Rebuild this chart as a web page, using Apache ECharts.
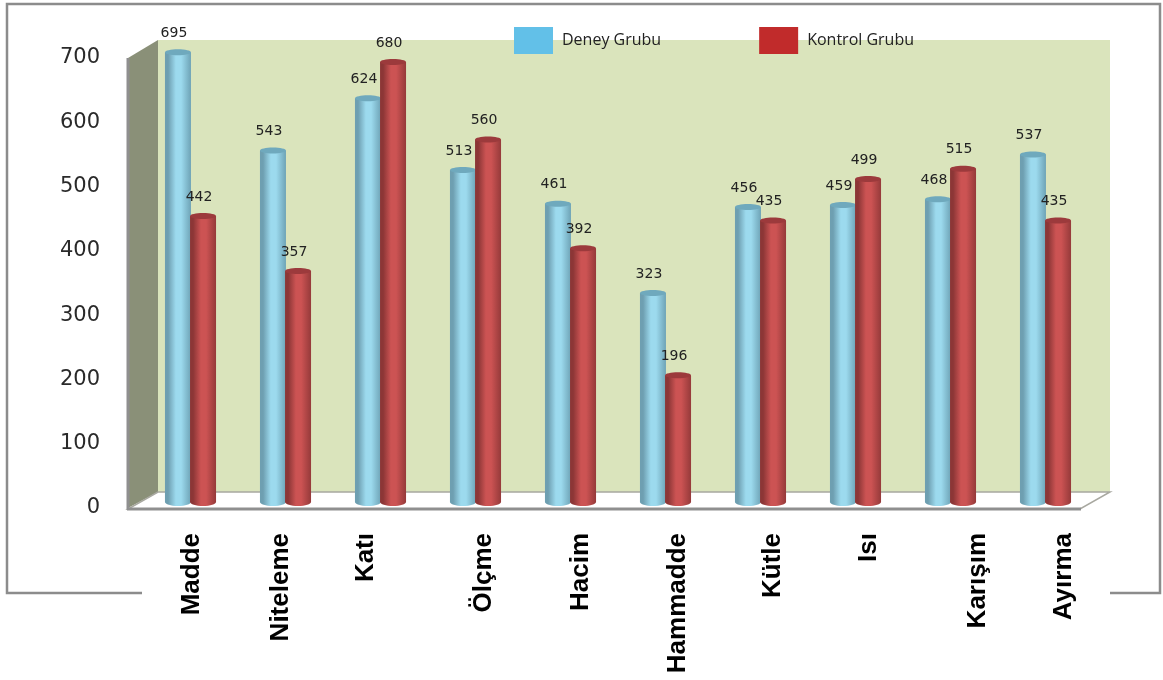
<!DOCTYPE html>
<html>
<head>
<meta charset="utf-8">
<style>html,body{margin:0;padding:0;background:#fff}#chart{width:1163px;height:680px}</style>
<script src="https://cdn.jsdelivr.net/npm/echarts@6/dist/echarts.min.js"></script>
</head>
<body>
<div id="chart"></div>
<script>
// Test scores per concept for the two groups
const categories = ['Madde','Niteleme','Katı','Ölçme','Hacim','Hammadde','Kütle','Isı','Karışım','Ayırma'];
const deneyGrubu = [695,543,624,513,461,323,456,459,468,537];
const kontrolGrubu = [442,357,680,560,392,196,435,499,515,435];
const valueTicks = [0,100,200,300,400,500,600,700];
// Hand placement of the rotated category names along the axis, in px
const labelNudge = [1,-5,-15,8,10,12,12,13,27,18];

const chart = echarts.init(document.getElementById('chart'));

function grad(edgeL, mid, edgeR) {
  return new echarts.graphic.LinearGradient(0,0,1,0,[
    {offset:0,color:edgeL},{offset:0.12,color:edgeL},{offset:0.42,color:mid},
    {offset:0.62,color:mid},{offset:1,color:edgeR}]);
}

// Cylinder: gradient body, rounded foot, darker lid, value label above
function cylinder(offsetRatio, body, lid) {
  return function (params, api) {
    const idx = api.value(0), val = api.value(1);
    const top = api.coord([idx, val]);
    const base = api.coord([idx, 0]);
    const band = api.size([1,0])[0];
    const cx = top[0] + band * offsetRatio;
    const r = 13;
    return {
      type:'group',
      children:[
        {type:'ellipse',shape:{cx:cx,cy:base[1],rx:r,ry:4},style:{fill:body}},
        {type:'rect',shape:{x:cx-r,y:top[1],width:2*r,height:base[1]-top[1]},style:{fill:body}},
        {type:'ellipse',shape:{cx:cx,cy:top[1],rx:r,ry:3},style:{fill:lid}},
        {type:'text',x:cx-4,y:top[1]-19,style:{text:String(val),fill:'#222',
          font:'14px "DejaVu Sans"',align:'center',verticalAlign:'middle'}}
      ]
    };
  };
}

// Rotated category names hanging below the floor of the plot
function categoryName(params, api) {
  const idx = api.value(0);
  const p = api.coord([idx, 0]);
  return {
    type:'text', x:p[0]+labelNudge[idx], y:p[1]+31, rotation:Math.PI/2,
    style:{text:categories[idx],fill:'#000',font:'bold 26px "Liberation Sans"',
      align:'right',verticalAlign:'middle'}
  };
}

const frameColor = '#8c8c8c';
const pairs = s => s.map((v,i)=>[i,v]);

chart.setOption({
  animation:false,
  backgroundColor:'#fff',
  legend:{
    left:509, top:22, itemWidth:39, itemHeight:27, itemGap:98,
    icon:'rect',
    textStyle:{fontFamily:'Open Sans',fontSize:16,color:'#222',padding:[0,0,0,4]},
    data:[
      {name:'Deney Grubu',itemStyle:{color:'#62c0e8'}},
      {name:'Kontrol Grubu',itemStyle:{color:'#c12b2b'}}
    ]
  },
  grid:[
    {left:143,top:49,width:950,height:453},
    {left:128,top:58,width:950,height:450}
  ],
  xAxis:[
    {type:'category',gridIndex:0,data:categories,show:false},
    {type:'category',gridIndex:1,data:categories,show:false}
  ],
  yAxis:[
    {type:'value',gridIndex:0,min:0,max:700,interval:100,show:false},
    {type:'value',gridIndex:1,min:valueTicks[0],max:valueTicks[valueTicks.length-1],interval:100,
      axisLine:{show:false},axisTick:{show:false},splitLine:{show:false},
      axisLabel:{margin:28,color:'#2a2a2a',fontFamily:'DejaVu Sans',fontSize:21}}
  ],
  graphic:{elements:[
    // Outer frame, broken along the bottom where the category names pass through
    {type:'polyline',z:0,shape:{points:[[142,593],[7,593],[7,4],[1160,4],[1160,593],[1110,593]]},
      style:{stroke:frameColor,lineWidth:2.5,fill:null}},
    // Back wall
    {type:'rect',z:0,shape:{x:158,y:40,width:952,height:452},style:{fill:'#dae4bc'}},
    // Left wall
    {type:'polygon',z:0,shape:{points:[[128,58],[158,40],[158,492],[128,508]]},style:{fill:'#8a9078'}},
    {type:'line',z:0,shape:{x1:128,y1:58,x2:128,y2:510},style:{stroke:'#8f8f8f',lineWidth:3}},
    // Floor
    {type:'polygon',z:0,shape:{points:[[128,509],[1080,509],[1110,492],[158,492]]},
      style:{fill:'#fff',stroke:'#a8a8a0',lineWidth:1.5}},
    {type:'line',z:0,shape:{x1:127,y1:509,x2:1081,y2:509},style:{stroke:'#8f8f8f',lineWidth:3}}
  ]},
  series:[
    {name:'Deney Grubu',type:'custom',xAxisIndex:0,yAxisIndex:0,
      itemStyle:{color:'#62c0e8'},encode:{x:0,y:1},data:pairs(deneyGrubu),
      renderItem:cylinder(-0.132,grad('#6e9fb1','#9cdaee','#6ea3b6'),'#6fa9bd')},
    {name:'Kontrol Grubu',type:'custom',xAxisIndex:0,yAxisIndex:0,
      itemStyle:{color:'#c12b2b'},encode:{x:0,y:1},data:pairs(kontrolGrubu),
      renderItem:cylinder(0.132,grad('#8c3636','#cc5353','#953a3a'),'#9c3a3c')},
    {type:'custom',xAxisIndex:0,yAxisIndex:0,silent:true,encode:{x:0},
      data:categories.map((c,i)=>[i]),renderItem:categoryName}
  ]
});
</script>
</body>
</html>
